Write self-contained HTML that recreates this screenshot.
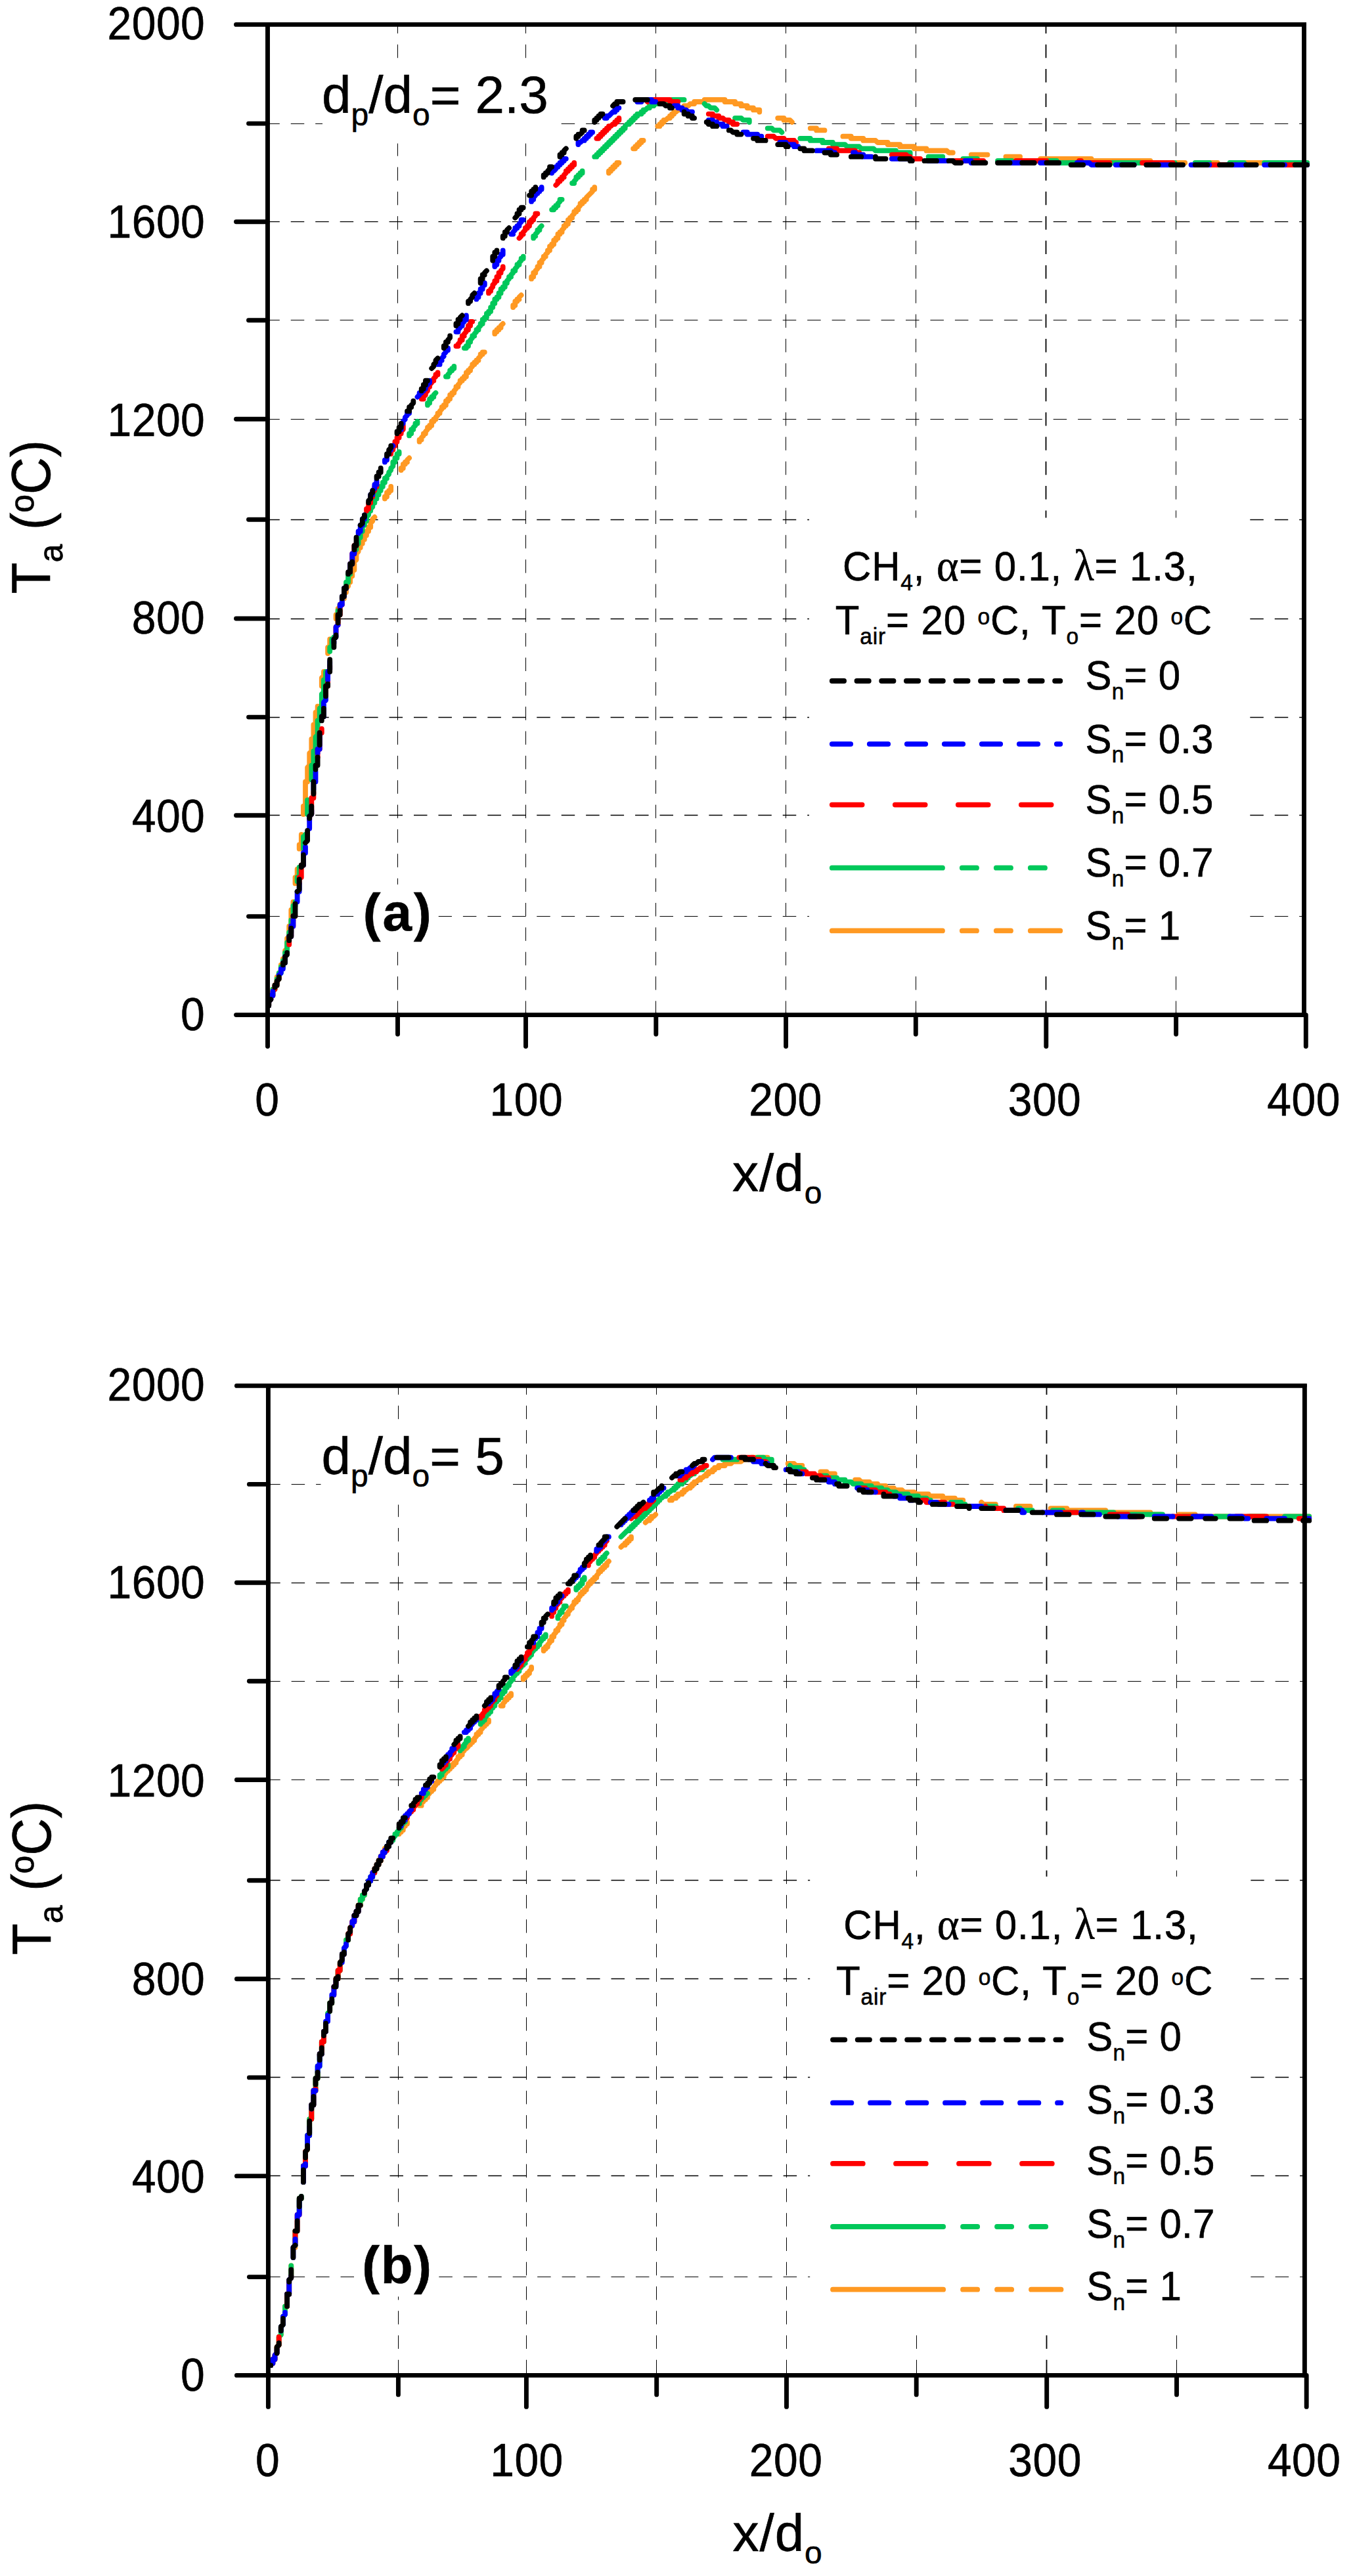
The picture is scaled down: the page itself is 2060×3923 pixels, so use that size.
<!DOCTYPE html>
<html lang="en"><head><meta charset="utf-8"><title>Axial temperature profiles</title>
<style>html,body{margin:0;padding:0;background:#fff}svg{display:block}</style></head>
<body>
<svg width="2060" height="3923" viewBox="0 0 2060 3923" font-family='"Liberation Sans", sans-serif' fill="#000" stroke="none">
<rect width="2060" height="3923" fill="#fff"/>
<g stroke="#000" stroke-dasharray="20.5 16.85" stroke-dashoffset="7"><line x1="605.5" y1="37.4" x2="605.5" y2="1545.6" stroke-width="1"/><line x1="800.5" y1="37.4" x2="800.5" y2="1545.6" stroke-width="1"/><line x1="998.5" y1="37.4" x2="998.5" y2="1545.6" stroke-width="1"/><line x1="1196.5" y1="37.4" x2="1196.5" y2="1545.6" stroke-width="1"/><line x1="1394.5" y1="37.4" x2="1394.5" y2="1545.6" stroke-width="1"/><line x1="1592.5" y1="37.4" x2="1592.5" y2="1545.6" stroke-width="1.8"/><line x1="1790.5" y1="37.4" x2="1790.5" y2="1545.6" stroke-width="1"/></g>
<g stroke="#000" stroke-dasharray="20.5 16.95" stroke-dashoffset="2.2"><line x1="407.5" y1="1395.5" x2="1985.5" y2="1395.5" stroke-width="1"/><line x1="407.5" y1="1241.5" x2="1985.5" y2="1241.5" stroke-width="1.5"/><line x1="407.5" y1="1092.5" x2="1985.5" y2="1092.5" stroke-width="1.5"/><line x1="407.5" y1="942.5" x2="1985.5" y2="942.5" stroke-width="1.5"/><line x1="407.5" y1="791.5" x2="1985.5" y2="791.5" stroke-width="1.5"/><line x1="407.5" y1="638.5" x2="1985.5" y2="638.5" stroke-width="1"/><line x1="407.5" y1="487.5" x2="1985.5" y2="487.5" stroke-width="1"/><line x1="407.5" y1="337.5" x2="1985.5" y2="337.5" stroke-width="1.25"/><line x1="407.5" y1="188.5" x2="1985.5" y2="188.5" stroke-width="1"/></g>
<rect x="491" y="90" width="362.5" height="128.5" fill="#fff"/>
<rect x="539" y="1347" width="128.5" height="90.5" fill="#fff"/>
<rect x="1232" y="788.5" width="671" height="690" fill="#fff"/>
<text transform="translate(1283 884) scale(1 1.045)" font-size="60" letter-spacing="0.85" stroke="#000" stroke-width="0.6"><tspan>CH</tspan><tspan dy="14.2" font-size="33.5">4</tspan><tspan dy="-14.2">, </tspan><tspan font-family='"Liberation Serif", "DejaVu Serif", serif' font-size="64">α</tspan><tspan>= 0.1, </tspan><tspan font-family='"Liberation Serif", "DejaVu Serif", serif' font-size="64">λ</tspan><tspan>= 1.3,</tspan></text>
<text transform="translate(1271.8 966.3) scale(1 1.045)" font-size="60" letter-spacing="0.85" stroke="#000" stroke-width="0.6"><tspan>T</tspan><tspan dy="14.2" font-size="33.5">air</tspan><tspan dy="-14.2">= 20 </tspan><tspan dy="-14.2" font-size="33.5">o</tspan><tspan dy="14.2">C, T</tspan><tspan dy="14.2" font-size="33.5">o</tspan><tspan dy="-14.2">= 20 </tspan><tspan dy="-14.2" font-size="33.5">o</tspan><tspan dy="14.2">C</tspan></text>
<line x1="1266.8" y1="1037.0" x2="1614.3" y2="1037.0" stroke="#000000" stroke-width="7.8" stroke-linecap="round" stroke-dasharray="18.3 19.4"/>
<text transform="translate(1652.5 1050.4) scale(1 1.055)" font-size="60" letter-spacing="0.2" stroke="#000" stroke-width="0.6"><tspan>S</tspan><tspan dy="14.2" font-size="33.5">n</tspan><tspan dy="-14.2">= 0</tspan></text>
<line x1="1266.8" y1="1133.1" x2="1614.3" y2="1133.1" stroke="#0000ff" stroke-width="7.8" stroke-linecap="round" stroke-dasharray="28.4 28.6"/>
<text transform="translate(1652.5 1146.5) scale(1 1.055)" font-size="60" letter-spacing="0.2" stroke="#000" stroke-width="0.6"><tspan>S</tspan><tspan dy="14.2" font-size="33.5">n</tspan><tspan dy="-14.2">= 0.3</tspan></text>
<line x1="1266.8" y1="1225.6" x2="1614.3" y2="1225.6" stroke="#ff0000" stroke-width="7.8" stroke-linecap="round" stroke-dasharray="45.8 50.2"/>
<text transform="translate(1652.5 1239.0) scale(1 1.055)" font-size="60" letter-spacing="0.2" stroke="#000" stroke-width="0.6"><tspan>S</tspan><tspan dy="14.2" font-size="33.5">n</tspan><tspan dy="-14.2">= 0.5</tspan></text>
<line x1="1266.8" y1="1321.7" x2="1614.3" y2="1321.7" stroke="#00c85a" stroke-width="7.8" stroke-linecap="round" stroke-dasharray="168.2 29.8 22.2 29.8 22.2 29.8 22.2 29.8"/>
<text transform="translate(1652.5 1335.1) scale(1 1.055)" font-size="60" letter-spacing="0.2" stroke="#000" stroke-width="0.6"><tspan>S</tspan><tspan dy="14.2" font-size="33.5">n</tspan><tspan dy="-14.2">= 0.7</tspan></text>
<line x1="1266.8" y1="1417.4" x2="1614.3" y2="1417.4" stroke="#ff9922" stroke-width="7.8" stroke-linecap="round" stroke-dasharray="168.2 29.8 22.2 29.8 22.2 29.8"/>
<text transform="translate(1652.5 1430.8) scale(1 1.055)" font-size="60" letter-spacing="0.2" stroke="#000" stroke-width="0.6"><tspan>S</tspan><tspan dy="14.2" font-size="33.5">n</tspan><tspan dy="-14.2">= 1</tspan></text>
<path d="M409.2 1531.4L409.2 1525.2L412.3 1522.1L412.3 1515.9L415.4 1515.9L415.4 1506.6L418.5 1506.6L418.5 1500.4L421.6 1497.3L421.6 1488L424.7 1488L424.7 1481.8L427.8 1478.7L427.8 1469.4L430.9 1469.4L430.9 1460.1L434 1460.1L434 1447.7L437.1 1444.6L437.1 1429.1L440.2 1429.1L440.2 1410.5L443.3 1410.5L443.3 1385.7L446.4 1385.7L446.4 1373.3M449.5 1345.4L449.5 1336.1L452.6 1336.1L452.6 1323.7M455.7 1292.7L455.7 1286.5L458.8 1286.5L458.8 1271M461.9 1240L461.9 1227.6L465 1227.6L465 1190.4L468.1 1190.4L468.1 1168.7L471.2 1165.6L471.2 1147L474.3 1143.9L474.3 1125.3L477.4 1125.3L477.4 1103.6L480.5 1103.6L480.5 1085L483.6 1085L483.6 1075.7M489.8 1044.7L489.8 1032.3L492.9 1029.2L492.9 1023M499.1 995.1L499.1 985.8L502.2 985.8L502.2 973.4L505.3 973.4M511.5 942.4L511.5 936.2L514.6 936.2L514.6 926.9L517.7 926.9L517.7 920.7L520.8 917.6L520.8 911.4L523.9 911.4L523.9 902.1L527 902.1L527 895.9L530.1 892.8L530.1 886.6L533.2 886.6L533.2 877.3L536.3 877.3L536.3 868L539.4 868L539.4 855.6L542.5 852.5L542.5 843.2L545.6 840.1L545.6 833.9L548.7 833.9L548.7 827.7L551.8 827.7L551.8 821.5L554.9 821.5L554.9 815.3L558 815.3L558 809.1L561.1 809.1L561.1 802.9L564.2 802.9L564.2 796.7L567.3 793.6L567.3 790.5L570.4 787.4M585.9 759.5L585.9 756.4L589 756.4L589 750.2L592.1 750.2L592.1 747.1L595.2 747.1L595.2 740.9M610.7 716.1L610.7 713L613.8 713L613.8 706.8L616.9 706.8L616.9 703.7L620 703.7L620 700.6L623.1 697.5M638.6 672.7L638.6 669.6L641.7 669.6L641.7 666.5L644.8 663.4L644.8 660.3L647.9 660.3L647.9 657.2L651 654.1L651 651L654.1 651L654.1 647.9L657.2 647.9L657.2 641.7L660.3 641.7L660.3 638.6L663.4 638.6L663.4 635.5L666.5 632.4L666.5 629.3L669.6 629.3L669.6 626.2L672.7 623.1L672.7 620L675.8 620L675.8 616.9L678.9 616.9L678.9 610.7L682 610.7L682 607.6L685.1 607.6L685.1 601.4L688.2 601.4L688.2 598.3L691.3 598.3L691.3 595.2L694.4 592.1L694.4 589L697.5 589L697.5 585.9L700.6 582.8L700.6 579.7L703.7 579.7L703.7 576.6L706.8 576.6L706.8 573.5L709.9 573.5L709.9 567.3L713 567.3L713 564.2L716.1 564.2L716.1 561.1L719.2 558L719.2 554.9L722.3 554.9L722.3 551.8L725.4 551.8L725.4 548.7L728.5 548.7L728.5 545.6L731.6 542.5L731.6 539.4L734.7 539.4L734.7 536.3L737.8 536.3M753.3 508.4L753.3 505.3L756.4 505.3L756.4 502.2L759.5 502.2L759.5 499.1L762.6 499.1L762.6 496L765.7 492.9M781.2 468.1L781.2 465L784.3 465L784.3 458.8L787.4 458.8L787.4 455.7L790.5 455.7L790.5 452.6L793.6 449.5M809.1 424.7L809.1 421.6L812.2 421.6L812.2 415.4L815.3 415.4L815.3 412.3L818.4 409.2L818.4 406.1L821.5 406.1L821.5 399.9L824.6 399.9L824.6 396.8L827.7 393.7L827.7 390.6L830.8 390.6L830.8 387.5L833.9 384.4L833.9 381.3L837 381.3L837 375.1L840.1 375.1L840.1 372L843.2 372L843.2 365.8L846.3 365.8L846.3 362.7L849.4 362.7L849.4 356.5L852.5 356.5L852.5 353.4L855.6 353.4L855.6 350.3L858.7 347.2L858.7 344.1L861.8 344.1L861.8 341L864.9 341L864.9 334.8L868 334.8L868 331.7L871.1 331.7L871.1 328.6L874.2 325.5L874.2 322.4L877.3 322.4L877.3 319.3L880.4 319.3L880.4 316.2L883.5 313.1L883.5 310L886.6 310L886.6 306.9L889.7 306.9L889.7 303.8L892.8 303.8L892.8 300.7L902.1 291.4L902.1 288.3L905.2 288.3L905.2 285.2M926.9 263.5L926.9 260.4L930 260.4L930 257.3L933.1 257.3L933.1 254.2L936.2 254.2L936.2 251.1L939.3 251.1L939.3 248L942.4 248M964.1 226.3L967.2 226.3L967.2 223.2L970.3 223.2L970.3 220.1L973.4 220.1L973.4 217L976.5 217L976.5 213.9L979.6 213.9M1001.3 192.2L1004.4 192.2L1004.4 189.1L1007.5 189.1L1007.5 186L1010.6 186L1010.6 182.9L1013.7 182.9L1016.8 179.8L1019.9 179.8L1019.9 176.7L1023 176.7L1023 173.6L1026.1 173.6L1026.1 170.5L1029.2 170.5L1032.3 167.4L1035.4 167.4L1035.4 164.3L1041.6 164.3L1041.6 161.2L1047.8 161.2L1050.9 158.1L1057.1 158.1L1057.1 155L1072.6 155L1072.6 151.9L1103.6 151.9L1103.6 155L1119.1 155L1119.1 158.1L1128.4 158.1L1128.4 161.2L1137.7 161.2L1137.7 164.3L1147 164.3L1147 167.4L1156.3 167.4L1156.3 170.5M1184.2 179.8L1193.5 179.8L1193.5 182.9L1202.8 182.9L1205.9 186M1233.8 195.3L1243.1 195.3L1243.1 198.4L1255.5 198.4M1283.4 207.7L1295.8 207.7L1295.8 210.8L1314.4 210.8L1314.4 213.9L1333 213.9L1336.1 217L1351.6 217L1351.6 220.1L1370.2 220.1L1370.2 223.2L1391.9 223.2L1391.9 226.3L1410.5 226.3L1410.5 229.4L1441.5 229.4L1444.6 232.5L1450.8 232.5M1478.7 235.6L1503.5 235.6M1531.4 238.7L1553.1 238.7M1584.1 241.8L1661.6 241.8L1661.6 244.9L1751.5 244.9M1779.4 248L1804.2 248M1832.1 248L1853.8 248M1884.8 248L1990.2 248" fill="none" stroke="#ff9922" stroke-width="7.8" stroke-linecap="round" stroke-linejoin="round"/>
<path d="M409.2 1531.4L409.2 1525.2L412.3 1522.1L412.3 1515.9L415.4 1515.9L415.4 1506.6L418.5 1506.6L418.5 1500.4L421.6 1500.4L421.6 1491.1L424.7 1491.1L424.7 1481.8L427.8 1481.8L427.8 1472.5L430.9 1472.5L430.9 1463.2L434 1463.2L434 1450.8L437.1 1450.8L437.1 1435.3L440.2 1435.3L440.2 1419.8L443.3 1419.8L443.3 1401.2L446.4 1401.2L446.4 1379.5L449.5 1379.5L449.5 1373.3M452.6 1342.3L452.6 1336.1L455.7 1336.1L455.7 1320.6M461.9 1292.7L461.9 1274.1L465 1274.1L465 1271M468.1 1240L468.1 1218.3L471.2 1218.3M474.3 1187.3L474.3 1165.6L477.4 1165.6L477.4 1143.9L480.5 1143.9L480.5 1122.2L483.6 1119.1L483.6 1097.4L486.7 1097.4L486.7 1078.8L489.8 1075.7L489.8 1057.1L492.9 1054L492.9 1035.4L496 1035.4L496 1023M502.2 992L502.2 985.8L505.3 985.8L505.3 973.4L508.4 973.4L508.4 970.3M514.6 942.4L514.6 930L517.7 930L517.7 920.7M527 892.8L527 886.6L530.1 886.6L530.1 874.2L533.2 874.2L533.2 871.1M539.4 840.1L542.5 837L542.5 827.7L545.6 827.7L545.6 818.4L548.7 818.4L548.7 809.1L551.8 809.1L551.8 799.8L554.9 799.8L554.9 793.6L558 793.6L558 787.4L561.1 784.3L561.1 778.1L564.2 778.1L564.2 775L567.3 771.9L567.3 765.7L570.4 765.7L570.4 759.5L573.5 759.5L573.5 753.3L576.6 753.3L576.6 747.1L579.7 747.1L579.7 740.9L582.8 740.9L582.8 734.7L585.9 734.7L585.9 728.5L589 728.5L589 725.4L592.1 722.3L592.1 719.2L595.2 716.1L595.2 713L598.3 709.9L598.3 703.7L601.4 703.7L601.4 697.5L604.5 697.5L604.5 691.3L607.6 691.3L607.6 688.2M623.1 663.4L623.1 660.3L626.2 660.3L626.2 654.1L629.3 654.1L629.3 651L632.4 647.9L632.4 644.8L635.5 644.8L635.5 641.7M651 616.9L651 613.8L654.1 613.8L654.1 607.6L657.2 607.6L657.2 604.5L660.3 604.5L660.3 601.4L663.4 598.3M678.9 573.5L682 573.5L682 570.4L685.1 567.3L685.1 564.2L688.2 564.2L688.2 561.1L691.3 561.1L691.3 558M706.8 530.1L709.9 530.1L709.9 527L713 527L713 520.8L716.1 520.8L716.1 517.7L719.2 514.6L719.2 511.5L722.3 511.5L722.3 508.4L725.4 505.3L725.4 502.2L728.5 502.2L728.5 499.1L731.6 496L731.6 492.9L734.7 492.9L734.7 486.7L737.8 486.7L737.8 483.6L740.9 483.6L740.9 477.4L744 477.4L744 474.3L747.1 474.3L747.1 468.1L750.2 468.1L750.2 461.9L753.3 461.9L753.3 455.7L756.4 455.7L756.4 452.6L759.5 452.6L759.5 446.4L762.6 446.4L762.6 440.2L765.7 440.2L765.7 437.1L768.8 437.1L768.8 430.9L771.9 430.9L771.9 427.8L775 424.7L775 421.6L778.1 421.6L778.1 418.5L781.2 415.4L781.2 412.3L784.3 412.3L784.3 409.2L787.4 406.1L787.4 403L790.5 403L790.5 399.9L793.6 396.8L793.6 393.7L796.7 393.7L796.7 390.6M812.2 362.7L812.2 359.6L815.3 359.6L815.3 356.5L818.4 353.4L818.4 350.3L821.5 350.3L821.5 347.2L824.6 344.1M840.1 319.3L843.2 319.3L843.2 316.2L846.3 316.2L846.3 313.1L849.4 313.1L849.4 310L852.5 306.9L852.5 303.8L855.6 303.8M871.1 279L874.2 279L874.2 275.9L877.3 272.8L877.3 269.7L880.4 269.7L880.4 266.6L883.5 266.6L883.5 263.5L886.6 263.5L886.6 260.4M905.2 238.7L908.3 238.7L908.3 235.6L911.4 235.6L911.4 232.5L914.5 232.5L914.5 229.4L917.6 229.4L917.6 226.3L920.7 226.3L920.7 223.2L923.8 223.2L923.8 220.1L926.9 220.1L926.9 217L930 217L930 213.9L933.1 213.9L933.1 210.8L936.2 210.8L936.2 207.7L939.3 207.7L939.3 204.6L942.4 204.6L942.4 201.5L945.5 201.5L945.5 198.4L948.6 198.4L948.6 195.3L951.7 195.3L951.7 192.2L954.8 189.1L957.9 189.1L957.9 186L961 186L961 182.9L964.1 182.9L964.1 179.8L967.2 179.8L967.2 176.7L970.3 176.7L970.3 173.6L976.5 173.6L976.5 170.5L979.6 170.5L979.6 167.4L982.7 167.4L985.8 164.3L988.9 164.3L988.9 161.2L995.1 161.2L995.1 158.1L1004.4 158.1L1004.4 155L1019.9 155L1023 151.9L1041.6 151.9M1072.6 158.1L1075.7 161.2L1078.8 161.2L1081.9 164.3L1088.1 164.3L1091.2 167.4M1119.1 179.8L1128.4 179.8L1131.5 182.9L1140.8 182.9L1140.8 186M1168.7 195.3L1174.9 195.3L1178 198.4L1187.3 198.4L1190.4 201.5M1218.3 210.8L1233.8 210.8L1233.8 213.9L1252.4 213.9L1252.4 217L1267.9 217L1267.9 220.1L1286.5 220.1L1289.6 223.2L1308.2 223.2L1311.3 226.3L1329.9 226.3L1333 229.4L1364 229.4L1364 232.5L1385.7 232.5L1385.7 235.6M1413.6 238.7L1435.3 238.7M1466.3 241.8L1488 241.8M1519 244.9L1540.7 244.9M1571.7 244.9L1608.9 244.9L1608.9 248L1739.1 248M1767 248L1788.7 248M1819.7 248L1841.4 248M1872.4 248L1894.1 248M1925.1 248L1990.2 248" fill="none" stroke="#00c85a" stroke-width="7.8" stroke-linecap="round" stroke-linejoin="round"/>
<path d="M409.2 1531.4L409.2 1525.2L412.3 1522.1L412.3 1515.9L415.4 1515.9L415.4 1509.7L418.5 1506.6L418.5 1500.4L421.6 1500.4L421.6 1494.2L424.7 1491.1L424.7 1488M440.2 1438.4L440.2 1426L443.3 1426L443.3 1410.5L446.4 1410.5L446.4 1395L449.5 1395M455.7 1345.4L455.7 1336.1L458.8 1336.1L458.8 1317.5L461.9 1317.5L461.9 1298.9M471.2 1249.3L471.2 1243.1L474.3 1240L474.3 1215.2L477.4 1215.2L477.4 1205.9M483.6 1153.2L483.6 1140.8L486.7 1140.8L486.7 1116L489.8 1116L489.8 1109.8M496 1060.2L496 1044.7L499.1 1044.7L499.1 1023L502.2 1019.9L502.2 1013.7M511.5 964.1L511.5 954.8L514.6 951.7L514.6 936.2L517.7 936.2L517.7 920.7L520.8 920.7M533.2 871.1L533.2 858.7L536.3 858.7L536.3 843.2L539.4 843.2L539.4 830.8L542.5 830.8L542.5 827.7M558 778.1L558 775L561.1 775L561.1 765.7L564.2 765.7L564.2 756.4L567.3 756.4L567.3 750.2L570.4 747.1L570.4 740.9L573.5 740.9L573.5 734.7M595.2 691.3L595.2 685.1L598.3 685.1L598.3 678.9L601.4 678.9L601.4 672.7L604.5 672.7L604.5 666.5L607.6 666.5L607.6 660.3L610.7 660.3L610.7 657.2L613.8 654.1L613.8 647.9M641.7 607.6L644.8 607.6L644.8 604.5L647.9 601.4L647.9 598.3L651 595.2L651 589L654.1 589L654.1 585.9L657.2 582.8L657.2 579.7L660.3 579.7L660.3 576.6L663.4 573.5L663.4 570.4L666.5 570.4L666.5 567.3M694.4 527L697.5 527L697.5 523.9L700.6 520.8L700.6 517.7L703.7 517.7L703.7 511.5L706.8 511.5L706.8 508.4L709.9 505.3L709.9 502.2L713 502.2L713 496L716.1 496L716.1 489.8L719.2 489.8M744 446.4L744 443.3L747.1 443.3L747.1 440.2L750.2 437.1L750.2 434L753.3 430.9L753.3 427.8L756.4 427.8L756.4 421.6L759.5 421.6L759.5 415.4L762.6 415.4L762.6 412.3L765.7 409.2L765.7 406.1M790.5 362.7L793.6 359.6L793.6 356.5L796.7 356.5L796.7 353.4L799.8 350.3L799.8 347.2L802.9 347.2L802.9 344.1L806 344.1L806 337.9L809.1 337.9L809.1 334.8L812.2 334.8L812.2 331.7L815.3 328.6L815.3 325.5L818.4 325.5M846.3 282.1L849.4 279L849.4 275.9L852.5 275.9L852.5 272.8L855.6 272.8L855.6 269.7L858.7 269.7L858.7 266.6L861.8 263.5L861.8 260.4L864.9 260.4L864.9 257.3L868 257.3L868 254.2L871.1 254.2L871.1 251.1L874.2 251.1L874.2 248M908.3 210.8L911.4 210.8L911.4 207.7L914.5 207.7L914.5 204.6L917.6 204.6L917.6 201.5L920.7 201.5L920.7 198.4L923.8 198.4L923.8 195.3L926.9 195.3L926.9 192.2L930 192.2L933.1 189.1L936.2 189.1L936.2 186L939.3 186L939.3 182.9L942.4 182.9L942.4 179.8M985.8 155L988.9 151.9L1019.9 151.9L1019.9 155L1032.3 155M1078.8 173.6L1085 173.6L1085 176.7L1094.3 176.7L1094.3 179.8L1100.5 179.8L1103.6 182.9L1109.8 182.9L1109.8 186L1116 186L1116 189.1L1122.2 189.1M1168.7 207.7L1178 207.7L1181.1 210.8L1193.5 210.8L1193.5 213.9L1209 213.9L1209 217L1212.1 217M1261.7 226.3L1274.1 226.3L1274.1 229.4L1302 229.4L1305.1 232.5L1308.2 232.5M1357.8 235.6L1379.5 235.6L1382.6 238.7L1385.7 238.7L1385.7 241.8L1401.2 241.8M1450.8 244.9L1497.3 244.9M1546.9 244.9L1593.4 244.9M1643 244.9L1646.1 244.9L1646.1 248L1689.5 248M1739.1 248L1785.6 248M1835.2 251.1L1881.7 251.1M1931.3 251.1L1977.8 251.1" fill="none" stroke="#ff0000" stroke-width="7.8" stroke-linecap="round" stroke-linejoin="round"/>
<path d="M409.2 1531.4L409.2 1525.2L412.3 1522.1L412.3 1515.9L415.4 1515.9L415.4 1509.7M424.7 1484.9L427.8 1481.8L427.8 1475.6L430.9 1475.6L430.9 1466.3L434 1466.3L434 1457M440.2 1429.1L440.2 1426L443.3 1426L443.3 1410.5L446.4 1410.5L446.4 1401.2M452.6 1373.3L452.6 1357.8L455.7 1357.8L455.7 1345.4M461.9 1317.5L461.9 1298.9L465 1298.9L465 1289.6M471.2 1261.7L471.2 1243.1L474.3 1240L474.3 1233.8M477.4 1202.8L477.4 1190.4L480.5 1190.4L480.5 1174.9M483.6 1147L483.6 1140.8L486.7 1140.8L486.7 1119.1M489.8 1091.2L492.9 1091.2L492.9 1069.5L496 1066.4L496 1063.3M499.1 1035.4L499.1 1023L502.2 1019.9L502.2 1007.5M508.4 979.6L508.4 973.4L511.5 970.3L511.5 954.8L514.6 951.7M517.7 923.8L517.7 920.7L520.8 920.7L520.8 908.3L523.9 908.3L523.9 895.9L527 895.9M533.2 868L533.2 858.7L536.3 858.7L536.3 843.2L539.4 843.2L539.4 840.1M545.6 812.2L545.6 809.1L548.7 809.1L548.7 799.8L551.8 799.8L551.8 790.5L554.9 790.5L554.9 784.3M564.2 756.4L564.2 753.3L567.3 753.3L567.3 747.1L570.4 744L570.4 737.8L573.5 737.8L573.5 731.6M585.9 703.7L585.9 700.6L589 700.6L589 694.4L592.1 691.3L592.1 688.2L595.2 685.1L595.2 682L598.3 678.9M610.7 654.1L610.7 647.9L613.8 644.8L613.8 641.7L616.9 638.6L616.9 635.5L620 632.4L620 629.3L623.1 629.3L623.1 626.2M635.5 604.5L638.6 601.4L638.6 598.3L641.7 598.3L641.7 595.2L644.8 595.2L644.8 592.1L647.9 592.1L647.9 589L651 585.9L651 582.8L654.1 582.8L654.1 579.7M666.5 554.9L669.6 554.9L669.6 548.7L672.7 548.7L672.7 545.6L675.8 542.5L675.8 539.4L678.9 536.3L678.9 533.2L682 533.2L682 530.1M694.4 505.3L697.5 505.3L697.5 502.2L700.6 499.1L700.6 496L703.7 496L703.7 492.9L706.8 489.8L706.8 486.7L709.9 486.7L709.9 480.5M725.4 455.7L725.4 452.6L728.5 452.6L728.5 446.4L731.6 446.4L731.6 440.2L734.7 440.2L734.7 434L737.8 434L737.8 430.9M753.3 406.1L753.3 403L756.4 403L756.4 396.8L759.5 396.8L759.5 393.7L762.6 390.6L762.6 387.5L765.7 387.5L765.7 381.3M778.1 356.5L781.2 356.5L781.2 353.4L784.3 350.3L784.3 347.2L787.4 347.2L787.4 344.1L790.5 344.1L790.5 341L793.6 337.9L793.6 334.8L796.7 334.8M809.1 306.9L809.1 303.8L812.2 303.8L812.2 300.7L815.3 297.6L815.3 294.5L818.4 294.5L818.4 291.4L821.5 291.4L821.5 288.3L824.6 288.3L824.6 285.2M840.1 263.5L840.1 260.4L843.2 260.4L846.3 257.3L846.3 254.2L849.4 254.2L849.4 251.1L852.5 251.1L852.5 248L855.6 248L855.6 244.9L858.7 244.9L858.7 241.8L861.8 241.8M880.4 220.1L880.4 217L883.5 217L886.6 213.9L889.7 213.9L889.7 210.8L892.8 210.8L892.8 207.7L895.9 207.7L895.9 204.6L899 204.6L899 201.5L902.1 201.5M920.7 179.8L923.8 179.8L923.8 176.7L926.9 176.7L933.1 170.5L936.2 170.5L936.2 167.4L939.3 167.4L939.3 164.3L942.4 164.3M970.3 155L976.5 155L976.5 151.9L992 151.9L992 155L998.2 155M1026.1 161.2L1032.3 161.2L1032.3 164.3L1038.5 164.3L1038.5 167.4L1044.7 167.4L1047.8 170.5L1054 170.5M1078.8 182.9L1085 182.9L1085 186L1091.2 186L1091.2 189.1L1100.5 189.1L1100.5 192.2L1106.7 192.2M1131.5 201.5L1137.7 201.5L1137.7 204.6L1153.2 204.6L1153.2 207.7L1159.4 207.7M1187.3 217L1196.6 217L1196.6 220.1L1209 220.1L1209 223.2L1215.2 223.2M1243.1 229.4L1264.8 229.4L1267.9 232.5L1271 232.5M1298.9 232.5L1302 232.5L1302 235.6L1314.4 235.6L1314.4 238.7L1326.8 238.7M1357.8 241.8L1385.7 241.8M1413.6 244.9L1441.5 244.9M1469.4 244.9L1478.7 244.9L1478.7 248L1497.3 248M1528.3 248L1556.2 248M1584.1 248L1612 248M1639.9 248L1658.5 248L1661.6 251.1L1670.9 251.1M1698.8 251.1L1726.7 251.1M1754.6 251.1L1782.5 251.1M1813.5 251.1L1841.4 251.1M1869.3 251.1L1897.2 251.1M1925.1 251.1L1956.1 251.1M1984 251.1L1990.2 251.1" fill="none" stroke="#0000ff" stroke-width="7.8" stroke-linecap="round" stroke-linejoin="round"/>
<path d="M409.2 1531.4L409.2 1525.2L412.3 1522.1M418.5 1503.5L418.5 1500.4L421.6 1500.4L421.6 1494.2L424.7 1491.1L424.7 1488M430.9 1469.4L430.9 1466.3L434 1466.3L434 1457L437.1 1453.9L437.1 1450.8M440.2 1432.2L440.2 1426L443.3 1426L443.3 1413.6M446.4 1395L449.5 1395L449.5 1376.4M452.6 1357.8L455.7 1354.7L455.7 1339.2M458.8 1320.6L458.8 1317.5L461.9 1317.5L461.9 1302M465 1283.4L468.1 1280.3L468.1 1264.8M471.2 1246.2L471.2 1243.1L474.3 1240L474.3 1227.6M477.4 1209L477.4 1190.4M480.5 1171.8L480.5 1165.6L483.6 1165.6L483.6 1153.2M486.7 1134.6L486.7 1116M489.8 1097.4L489.8 1091.2L492.9 1091.2L492.9 1078.8M496 1060.2L496 1044.7L499.1 1044.7L499.1 1041.6M502.2 1023L502.2 1004.4M508.4 985.8L508.4 973.4L511.5 970.3L511.5 967.2M514.6 948.6L514.6 936.2L517.7 936.2L517.7 930M520.8 911.4L520.8 908.3L523.9 908.3L523.9 895.9L527 895.9L527 892.8M530.1 874.2L530.1 871.1L533.2 871.1L533.2 858.7L536.3 858.7L536.3 855.6M539.4 837L539.4 830.8L542.5 830.8L542.5 818.4M548.7 799.8L551.8 796.7L551.8 790.5L554.9 787.4L554.9 784.3M561.1 765.7L561.1 762.6L564.2 759.5L564.2 753.3L567.3 750.2L567.3 747.1M573.5 728.5L573.5 725.4L576.6 725.4L576.6 719.2L579.7 719.2L579.7 713M589 694.4L589 691.3L592.1 691.3L592.1 685.1L595.2 682L595.2 678.9M604.5 660.3L604.5 657.2L607.6 657.2L607.6 651L610.7 651L610.7 644.8M620 626.2L623.1 626.2L623.1 620L626.2 620L626.2 616.9L629.3 613.8L629.3 610.7M641.7 595.2L641.7 592.1L644.8 592.1L644.8 585.9L647.9 585.9L647.9 579.7L651 579.7M657.2 561.1L660.3 558L660.3 554.9L663.4 551.8L663.4 548.7L666.5 545.6M675.8 530.1L675.8 527L678.9 527L678.9 520.8L682 520.8L682 517.7L685.1 514.6L685.1 511.5M694.4 496L694.4 492.9L697.5 492.9L697.5 486.7L700.6 486.7L700.6 483.6L703.7 480.5M713 461.9L713 458.8L716.1 458.8L716.1 455.7L719.2 452.6L719.2 449.5L722.3 446.4M731.6 430.9L731.6 424.7L734.7 424.7L734.7 418.5L737.8 418.5L737.8 415.4L740.9 412.3M750.2 396.8L750.2 390.6L753.3 390.6L753.3 384.4L756.4 384.4L756.4 381.3M765.7 362.7L765.7 359.6L768.8 359.6L768.8 353.4L771.9 353.4L771.9 350.3L775 347.2M784.3 331.7L787.4 328.6L787.4 325.5L790.5 325.5L790.5 319.3L793.6 319.3L793.6 316.2L796.7 316.2M806 297.6L809.1 297.6L809.1 291.4L812.2 291.4L812.2 288.3L815.3 288.3L815.3 285.2M827.7 269.7L827.7 266.6L830.8 266.6L830.8 263.5L833.9 263.5L833.9 260.4L837 257.3L837 254.2L840.1 254.2M852.5 238.7L852.5 235.6L855.6 235.6L855.6 232.5L858.7 232.5L858.7 229.4L861.8 226.3M877.3 210.8L877.3 207.7L880.4 207.7L880.4 204.6L883.5 204.6L886.6 201.5L886.6 198.4L889.7 198.4M905.2 186L905.2 182.9L908.3 182.9L908.3 179.8L911.4 179.8L911.4 176.7L914.5 176.7L914.5 173.6L917.6 173.6M933.1 161.2L936.2 158.1L939.3 158.1L939.3 155L948.6 155M967.2 151.9L985.8 151.9M1004.4 158.1L1010.6 158.1L1013.7 161.2L1019.9 161.2L1019.9 164.3L1023 164.3M1041.6 170.5L1041.6 173.6L1047.8 173.6L1047.8 176.7L1054 176.7L1054 179.8L1057.1 179.8M1075.7 186L1078.8 186L1078.8 189.1L1085 189.1L1085 192.2L1091.2 192.2M1109.8 198.4L1112.9 198.4L1116 201.5L1122.2 201.5L1122.2 204.6L1128.4 204.6M1147 210.8L1153.2 210.8L1153.2 213.9L1165.6 213.9M1184.2 220.1L1196.6 220.1L1196.6 223.2L1199.7 223.2M1218.3 226.3L1224.5 226.3L1224.5 229.4L1236.9 229.4M1255.5 232.5L1264.8 232.5L1264.8 235.6L1274.1 235.6M1295.8 238.7L1311.3 238.7M1333 238.7L1333 241.8L1348.5 241.8M1370.2 241.8L1385.7 241.8L1385.7 244.9L1388.8 244.9M1407.4 244.9L1426 244.9M1444.6 244.9L1450.8 244.9L1453.9 248L1463.2 248M1481.8 248L1500.4 248M1519 248L1537.6 248M1556.2 248L1574.8 248M1593.4 248L1612 248M1630.6 251.1L1649.2 251.1M1670.9 251.1L1689.5 251.1M1708.1 251.1L1726.7 251.1M1745.3 251.1L1763.9 251.1M1782.5 251.1L1801.1 251.1M1819.7 251.1L1838.3 251.1M1856.9 251.1L1875.5 251.1M1897.2 251.1L1912.7 251.1M1934.4 251.1L1953 251.1M1971.6 251.1L1990.2 251.1" fill="none" stroke="#000000" stroke-width="7.8" stroke-linecap="round" stroke-linejoin="round"/>
<g stroke="#000" stroke-width="6.9" stroke-linecap="round"><line x1="407.5" y1="37.4" x2="407.5" y2="1545.6" stroke-linecap="butt"/><line x1="1985.5" y1="34.0" x2="1985.5" y2="1549.0" stroke-linecap="butt"/><line x1="359.5" y1="37.4" x2="1985.5" y2="37.4"/><line x1="378.5" y1="188.1" x2="407.5" y2="188.1"/><line x1="359.5" y1="337.8" x2="407.5" y2="337.8"/><line x1="378.5" y1="487.8" x2="407.5" y2="487.8"/><line x1="359.5" y1="638.3" x2="407.5" y2="638.3"/><line x1="378.5" y1="791.3" x2="407.5" y2="791.3"/><line x1="359.5" y1="942.0" x2="407.5" y2="942.0"/><line x1="378.5" y1="1092.1" x2="407.5" y2="1092.1"/><line x1="359.5" y1="1241.8" x2="407.5" y2="1241.8"/><line x1="378.5" y1="1395.6" x2="407.5" y2="1395.6"/><line x1="359.5" y1="1545.6" x2="1985.5" y2="1545.6"/><line x1="407.5" y1="1545.6" x2="407.5" y2="1593.6"/><line x1="605.5" y1="1545.6" x2="605.5" y2="1575.1"/><line x1="800.5" y1="1545.6" x2="800.5" y2="1593.6"/><line x1="998.8" y1="1545.6" x2="998.8" y2="1575.1"/><line x1="1196.6" y1="1545.6" x2="1196.6" y2="1593.6"/><line x1="1394.3" y1="1545.6" x2="1394.3" y2="1575.1"/><line x1="1592.8" y1="1545.6" x2="1592.8" y2="1593.6"/><line x1="1790.6" y1="1545.6" x2="1790.6" y2="1575.1"/><line x1="1988.3" y1="1545.6" x2="1988.3" y2="1593.6"/></g>
<text transform="translate(312.3 60.3) scale(1 1.055)" font-size="66" text-anchor="end" letter-spacing="0.5" stroke="#000" stroke-width="0.6">2000</text>
<text transform="translate(312.3 362.0) scale(1 1.055)" font-size="66" text-anchor="end" letter-spacing="0.5" stroke="#000" stroke-width="0.6">1600</text>
<text transform="translate(312.3 663.6) scale(1 1.055)" font-size="66" text-anchor="end" letter-spacing="0.5" stroke="#000" stroke-width="0.6">1200</text>
<text transform="translate(312.3 965.3) scale(1 1.055)" font-size="66" text-anchor="end" letter-spacing="0.5" stroke="#000" stroke-width="0.6">800</text>
<text transform="translate(312.3 1266.9) scale(1 1.055)" font-size="66" text-anchor="end" letter-spacing="0.5" stroke="#000" stroke-width="0.6">400</text>
<text transform="translate(312.3 1568.6) scale(1 1.055)" font-size="66" text-anchor="end" letter-spacing="0.5" stroke="#000" stroke-width="0.6">0</text>
<text transform="translate(406.9 1699.3) scale(1 1.055)" font-size="66" text-anchor="middle" letter-spacing="0.5" stroke="#000" stroke-width="0.6">0</text>
<text transform="translate(801.4 1699.3) scale(1 1.055)" font-size="66" text-anchor="middle" letter-spacing="0.5" stroke="#000" stroke-width="0.6">100</text>
<text transform="translate(1196.0 1699.3) scale(1 1.055)" font-size="66" text-anchor="middle" letter-spacing="0.5" stroke="#000" stroke-width="0.6">200</text>
<text transform="translate(1590.5 1699.3) scale(1 1.055)" font-size="66" text-anchor="middle" letter-spacing="0.5" stroke="#000" stroke-width="0.6">300</text>
<text transform="translate(1985.1 1699.3) scale(1 1.055)" font-size="66" text-anchor="middle" letter-spacing="0.5" stroke="#000" stroke-width="0.6">400</text>
<text transform="translate(490 171.7)" font-size="80" stroke="#000" stroke-width="0.6"><tspan>d</tspan><tspan dy="19" font-size="48">p</tspan><tspan dy="-19">/d</tspan><tspan dy="19" font-size="48">o</tspan><tspan dy="-19">= 2.3</tspan></text>
<text transform="translate(606.2 1417)" font-size="80" text-anchor="middle" font-weight="bold" letter-spacing="3" stroke="#000" stroke-width="0.6">(a)</text>
<text transform="translate(1115 1813.6)" font-size="80" letter-spacing="1" stroke="#000" stroke-width="0.6"><tspan>x/d</tspan><tspan dy="19" font-size="48">o</tspan></text>
<text transform="translate(76.2 787.3) rotate(-90) scale(1 1.05)" font-size="78.6" text-anchor="middle" stroke="#000" stroke-width="0.6"><tspan>T</tspan><tspan dy="18" font-size="50">a</tspan><tspan dy="-18"> (</tspan><tspan dy="-24" font-size="50">o</tspan><tspan dy="24">C)</tspan></text>
<g stroke="#000" stroke-dasharray="20.5 16.76" stroke-dashoffset="7"><line x1="606.5" y1="2110.4" x2="606.5" y2="3617.4" stroke-width="1"/><line x1="801.5" y1="2110.4" x2="801.5" y2="3617.4" stroke-width="1"/><line x1="999.5" y1="2110.4" x2="999.5" y2="3617.4" stroke-width="1"/><line x1="1197.5" y1="2110.4" x2="1197.5" y2="3617.4" stroke-width="1"/><line x1="1395.5" y1="2110.4" x2="1395.5" y2="3617.4" stroke-width="1"/><line x1="1593.5" y1="2110.4" x2="1593.5" y2="3617.4" stroke-width="1.8"/><line x1="1791.5" y1="2110.4" x2="1791.5" y2="3617.4" stroke-width="1"/></g>
<g stroke="#000" stroke-dasharray="20.5 16.95" stroke-dashoffset="2.2"><line x1="408.4" y1="3467.5" x2="1986.4" y2="3467.5" stroke-width="1"/><line x1="408.4" y1="3313.5" x2="1986.4" y2="3313.5" stroke-width="1.5"/><line x1="408.4" y1="3163.5" x2="1986.4" y2="3163.5" stroke-width="1.5"/><line x1="408.4" y1="3013.5" x2="1986.4" y2="3013.5" stroke-width="1.5"/><line x1="408.4" y1="2863.5" x2="1986.4" y2="2863.5" stroke-width="1.5"/><line x1="408.4" y1="2710.5" x2="1986.4" y2="2710.5" stroke-width="1"/><line x1="408.4" y1="2560.5" x2="1986.4" y2="2560.5" stroke-width="1"/><line x1="408.4" y1="2410.5" x2="1986.4" y2="2410.5" stroke-width="1.25"/><line x1="408.4" y1="2260.5" x2="1986.4" y2="2260.5" stroke-width="1"/></g>
<rect x="488.5" y="2163" width="292.5" height="128.5" fill="#fff"/>
<rect x="539" y="3403" width="128.5" height="94.5" fill="#fff"/>
<rect x="1233.2" y="2857.8" width="671" height="690" fill="#fff"/>
<text transform="translate(1284.2 2953.3) scale(1 1.045)" font-size="60" letter-spacing="0.85" stroke="#000" stroke-width="0.6"><tspan>CH</tspan><tspan dy="14.2" font-size="33.5">4</tspan><tspan dy="-14.2">, </tspan><tspan font-family='"Liberation Serif", "DejaVu Serif", serif' font-size="64">α</tspan><tspan>= 0.1, </tspan><tspan font-family='"Liberation Serif", "DejaVu Serif", serif' font-size="64">λ</tspan><tspan>= 1.3,</tspan></text>
<text transform="translate(1273.0 3038.2) scale(1 1.045)" font-size="60" letter-spacing="0.85" stroke="#000" stroke-width="0.6"><tspan>T</tspan><tspan dy="14.2" font-size="33.5">air</tspan><tspan dy="-14.2">= 20 </tspan><tspan dy="-14.2" font-size="33.5">o</tspan><tspan dy="14.2">C, T</tspan><tspan dy="14.2" font-size="33.5">o</tspan><tspan dy="-14.2">= 20 </tspan><tspan dy="-14.2" font-size="33.5">o</tspan><tspan dy="14.2">C</tspan></text>
<line x1="1268.0" y1="3106.3" x2="1615.5" y2="3106.3" stroke="#000000" stroke-width="7.8" stroke-linecap="round" stroke-dasharray="18.3 19.4"/>
<text transform="translate(1654.3 3122.9) scale(1 1.055)" font-size="60" letter-spacing="0.2" stroke="#000" stroke-width="0.6"><tspan>S</tspan><tspan dy="14.2" font-size="33.5">n</tspan><tspan dy="-14.2">= 0</tspan></text>
<line x1="1268.0" y1="3202.4" x2="1615.5" y2="3202.4" stroke="#0000ff" stroke-width="7.8" stroke-linecap="round" stroke-dasharray="28.4 28.6"/>
<text transform="translate(1654.3 3219.0) scale(1 1.055)" font-size="60" letter-spacing="0.2" stroke="#000" stroke-width="0.6"><tspan>S</tspan><tspan dy="14.2" font-size="33.5">n</tspan><tspan dy="-14.2">= 0.3</tspan></text>
<line x1="1268.0" y1="3294.9" x2="1615.5" y2="3294.9" stroke="#ff0000" stroke-width="7.8" stroke-linecap="round" stroke-dasharray="45.8 50.2"/>
<text transform="translate(1654.3 3311.5) scale(1 1.055)" font-size="60" letter-spacing="0.2" stroke="#000" stroke-width="0.6"><tspan>S</tspan><tspan dy="14.2" font-size="33.5">n</tspan><tspan dy="-14.2">= 0.5</tspan></text>
<line x1="1268.0" y1="3391.0" x2="1615.5" y2="3391.0" stroke="#00c85a" stroke-width="7.8" stroke-linecap="round" stroke-dasharray="168.2 29.8 22.2 29.8 22.2 29.8 22.2 29.8"/>
<text transform="translate(1654.3 3407.6) scale(1 1.055)" font-size="60" letter-spacing="0.2" stroke="#000" stroke-width="0.6"><tspan>S</tspan><tspan dy="14.2" font-size="33.5">n</tspan><tspan dy="-14.2">= 0.7</tspan></text>
<line x1="1268.0" y1="3486.7000000000003" x2="1615.5" y2="3486.7000000000003" stroke="#ff9922" stroke-width="7.8" stroke-linecap="round" stroke-dasharray="168.2 29.8 22.2 29.8 22.2 29.8"/>
<text transform="translate(1654.3 3503.3) scale(1 1.055)" font-size="60" letter-spacing="0.2" stroke="#000" stroke-width="0.6"><tspan>S</tspan><tspan dy="14.2" font-size="33.5">n</tspan><tspan dy="-14.2">= 1</tspan></text>
<path d="M409.2 3602.2L412.3 3602.2L412.3 3599.1L415.4 3599.1L415.4 3592.9L418.5 3592.9L418.5 3586.7L421.6 3583.6L421.6 3574.3L424.7 3571.2L424.7 3558.8L427.8 3555.7L427.8 3543.3L430.9 3540.2L430.9 3527.8L434 3524.7L434 3512.3L437.1 3512.3L437.1 3493.7L440.2 3493.7L440.2 3472L443.3 3468.9L443.3 3450.3M449.5 3422.4L449.5 3397.6M455.7 3369.7L455.7 3348L458.8 3348M461.9 3317L461.9 3298.4L465 3298.4L465 3276.7L468.1 3273.6L468.1 3251.9L471.2 3251.9L471.2 3227.1L474.3 3227.1L474.3 3205.4L477.4 3205.4L477.4 3183.7L480.5 3183.7L480.5 3165.1L483.6 3165.1L483.6 3152.7M489.8 3121.7L489.8 3109.3L492.9 3109.3L492.9 3100M499.1 3072.1L499.1 3065.9L502.2 3062.8L502.2 3050.4L505.3 3050.4M511.5 3019.4L511.5 3013.2L514.6 3013.2L514.6 3000.8L517.7 3000.8L517.7 2988.4L520.8 2985.3L520.8 2976L523.9 2976L523.9 2966.7L527 2963.6L527 2954.3L530.1 2954.3L530.1 2945L533.2 2941.9L533.2 2935.7L536.3 2932.6L536.3 2926.4L539.4 2926.4L539.4 2917.1L542.5 2917.1L542.5 2910.9L545.6 2910.9L545.6 2901.6L548.7 2901.6L548.7 2892.3L551.8 2892.3L551.8 2886.1L554.9 2886.1L554.9 2879.9L558 2876.8L558 2870.6L561.1 2870.6L561.1 2864.4L564.2 2864.4L564.2 2861.3M576.6 2833.4L579.7 2833.4L579.7 2827.2L582.8 2827.2L582.8 2821L585.9 2821L585.9 2814.8L589 2814.8M607.6 2793.1L607.6 2790L610.7 2790L610.7 2786.9L613.8 2786.9L613.8 2780.7L616.9 2780.7L616.9 2777.6L620 2777.6L620 2774.5M638.6 2749.7L641.7 2749.7L641.7 2746.6L644.8 2743.5L644.8 2740.4L647.9 2740.4L647.9 2737.3L651 2737.3L651 2734.2L654.1 2731.1L654.1 2728L657.2 2728L657.2 2724.9L660.3 2724.9L660.3 2721.8L663.4 2718.7L663.4 2715.6L666.5 2715.6L666.5 2712.5L669.6 2712.5L669.6 2709.4L672.7 2709.4L672.7 2706.3L675.8 2706.3L675.8 2703.2L678.9 2700.1L678.9 2697L682 2697L682 2693.9L685.1 2693.9L685.1 2690.8L688.2 2690.8L688.2 2687.7L691.3 2687.7L691.3 2684.6L694.4 2684.6L694.4 2681.5L697.5 2678.4L697.5 2675.3L700.6 2675.3L700.6 2672.2L703.7 2672.2L703.7 2669.1L706.8 2666L706.8 2662.9L709.9 2662.9L713 2659.8L713 2656.7L716.1 2656.7L716.1 2653.6L719.2 2653.6L719.2 2650.5L722.3 2650.5L722.3 2647.4L725.4 2644.3L725.4 2641.2L728.5 2641.2L728.5 2638.1L731.6 2638.1L731.6 2635L734.7 2631.9L734.7 2628.8L737.8 2628.8L737.8 2625.7L740.9 2625.7L740.9 2622.6L744 2622.6L744 2619.5M762.6 2597.8L765.7 2597.8L765.7 2594.7L768.8 2591.6L768.8 2588.5L771.9 2588.5L771.9 2585.4L775 2585.4L775 2582.3L778.1 2582.3L778.1 2579.2M796.7 2557.5L796.7 2554.4L799.8 2554.4L799.8 2551.3L802.9 2551.3L802.9 2548.2L806 2548.2L806 2545.1L809.1 2542L809.1 2538.9M827.7 2514.1L827.7 2511L830.8 2511L830.8 2507.9L833.9 2507.9L833.9 2504.8L837 2501.7L837 2498.6L840.1 2498.6L840.1 2492.4L843.2 2492.4L843.2 2489.3L846.3 2486.2L846.3 2483.1L849.4 2483.1L849.4 2480L852.5 2476.9L852.5 2473.8L855.6 2473.8L855.6 2467.6L858.7 2467.6L858.7 2464.5L861.8 2461.4L861.8 2458.3L864.9 2458.3L864.9 2455.2L868 2452.1L868 2449L871.1 2449L871.1 2445.9L874.2 2442.8L874.2 2439.7L877.3 2439.7L877.3 2436.6L880.4 2436.6L880.4 2433.5L883.5 2430.4L883.5 2427.3L886.6 2427.3L886.6 2424.2L889.7 2424.2L889.7 2421.1L892.8 2421.1L892.8 2418L895.9 2414.9L895.9 2411.8L899 2411.8L899 2408.7L902.1 2408.7L902.1 2405.6L905.2 2405.6L905.2 2402.5L908.3 2402.5L908.3 2399.4L911.4 2396.3L911.4 2393.2L914.5 2393.2L914.5 2390.1L917.6 2390.1L917.6 2387L920.7 2387L920.7 2383.9L923.8 2383.9L923.8 2380.8L926.9 2377.7M945.5 2356L948.6 2352.9L951.7 2352.9L951.7 2349.8L954.8 2349.8L954.8 2346.7L957.9 2346.7L957.9 2343.6L961 2343.6L961 2340.5M982.7 2318.8L985.8 2315.7L988.9 2315.7L988.9 2312.6L992 2312.6L992 2309.5L995.1 2309.5L998.2 2306.4M1019.9 2284.7L1023 2284.7L1023 2281.6L1029.2 2281.6L1029.2 2278.5L1032.3 2278.5L1032.3 2275.4L1038.5 2275.4L1038.5 2272.3L1041.6 2272.3L1041.6 2269.2L1044.7 2269.2L1047.8 2266.1L1050.9 2266.1L1050.9 2263L1054 2263L1054 2259.9L1057.1 2259.9L1057.1 2256.8L1060.2 2256.8L1063.3 2253.7L1066.4 2253.7L1066.4 2250.6L1069.5 2250.6L1072.6 2247.5L1075.7 2247.5L1075.7 2244.4L1078.8 2244.4L1078.8 2241.3L1085 2241.3L1085 2238.2L1088.1 2238.2L1088.1 2235.1L1094.3 2235.1L1094.3 2232L1103.6 2232L1103.6 2228.9L1112.9 2228.9L1116 2225.8L1128.4 2225.8L1131.5 2222.7L1140.8 2222.7L1143.9 2219.6L1168.7 2219.6L1168.7 2222.7L1171.8 2222.7M1199.7 2228.9L1209 2228.9L1212.1 2232L1221.4 2232M1249.3 2241.3L1258.6 2241.3L1258.6 2244.4L1271 2244.4M1302 2253.7L1308.2 2253.7L1311.3 2256.8L1323.7 2256.8L1323.7 2259.9L1336.1 2259.9L1336.1 2263L1348.5 2263L1348.5 2266.1L1360.9 2266.1L1360.9 2269.2L1373.3 2269.2L1376.4 2272.3L1391.9 2272.3L1395 2275.4L1413.6 2275.4L1413.6 2278.5L1435.3 2278.5L1435.3 2281.6L1453.9 2281.6L1453.9 2284.7L1466.3 2284.7M1494.2 2287.8L1497.3 2290.9L1515.9 2290.9M1546.9 2294L1568.6 2294M1599.6 2297.1L1624.4 2297.1L1624.4 2300.2L1683.3 2300.2L1683.3 2303.3L1751.5 2303.3L1751.5 2306.4L1767 2306.4M1794.9 2306.4L1819.7 2306.4M1847.6 2309.5L1869.3 2309.5M1900.3 2309.5L1993.3 2309.5" fill="none" stroke="#ff9922" stroke-width="7.8" stroke-linecap="round" stroke-linejoin="round"/>
<path d="M409.2 3602.2L412.3 3602.2L412.3 3599.1L415.4 3599.1L415.4 3592.9L418.5 3592.9L418.5 3586.7L421.6 3583.6L421.6 3574.3L424.7 3571.2L424.7 3558.8L427.8 3555.7L427.8 3543.3L430.9 3540.2L430.9 3527.8L434 3524.7L434 3512.3L437.1 3512.3L437.1 3493.7L440.2 3493.7L440.2 3472L443.3 3468.9L443.3 3450.3M449.5 3419.3L449.5 3397.6M455.7 3369.7L455.7 3348L458.8 3348L458.8 3344.9M461.9 3317L461.9 3298.4L465 3298.4L465 3295.3M468.1 3264.3L468.1 3251.9L471.2 3251.9L471.2 3227.1L474.3 3227.1L474.3 3205.4L477.4 3205.4L477.4 3183.7L480.5 3183.7L480.5 3165.1L483.6 3165.1L483.6 3146.5L486.7 3146.5L486.7 3127.9L489.8 3127.9L489.8 3109.3L492.9 3109.3L492.9 3100M499.1 3069L499.1 3065.9L502.2 3062.8L502.2 3050.4L505.3 3050.4L505.3 3047.3M511.5 3019.4L511.5 3013.2L514.6 3013.2L514.6 3000.8L517.7 3000.8L517.7 2997.7M523.9 2969.8L523.9 2966.7L527 2963.6L527 2954.3L530.1 2954.3L530.1 2948.1M539.4 2920.2L539.4 2917.1L542.5 2917.1L542.5 2910.9L545.6 2910.9L545.6 2901.6L548.7 2901.6L548.7 2892.3L551.8 2892.3L551.8 2886.1L554.9 2886.1L554.9 2879.9L558 2876.8L558 2870.6L561.1 2870.6L561.1 2864.4L564.2 2864.4L564.2 2858.2L567.3 2858.2L567.3 2852L570.4 2852L570.4 2845.8L573.5 2845.8L573.5 2839.6L576.6 2839.6L576.6 2833.4L579.7 2833.4L579.7 2827.2L582.8 2827.2L582.8 2821L585.9 2821L585.9 2817.9L589 2814.8L589 2811.7L592.1 2811.7L592.1 2805.5L595.2 2805.5L595.2 2802.4L598.3 2802.4L598.3 2799.3L601.4 2796.2L601.4 2793.1L604.5 2793.1L604.5 2790L607.6 2786.9L607.6 2783.8L610.7 2783.8L610.7 2780.7L613.8 2777.6L613.8 2774.5L616.9 2774.5L616.9 2771.4M635.5 2746.6L638.6 2746.6L638.6 2743.5L641.7 2740.4L641.7 2737.3L644.8 2737.3L644.8 2734.2L647.9 2734.2L647.9 2731.1L651 2731.1M669.6 2706.3L669.6 2703.2L672.7 2703.2L672.7 2700.1L675.8 2697L675.8 2693.9L678.9 2693.9L678.9 2690.8L682 2690.8L682 2687.7M700.6 2666L700.6 2662.9L703.7 2662.9L703.7 2659.8L706.8 2659.8L706.8 2656.7L709.9 2653.6L709.9 2650.5L713 2650.5L713 2647.4M731.6 2625.7L731.6 2622.6L734.7 2622.6L734.7 2619.5L737.8 2619.5L737.8 2616.4L740.9 2613.3L740.9 2610.2L744 2610.2L744 2607.1L747.1 2607.1L747.1 2600.9L750.2 2600.9L750.2 2597.8L753.3 2597.8L753.3 2591.6L756.4 2591.6L756.4 2588.5L759.5 2588.5L759.5 2585.4L762.6 2585.4L762.6 2579.2L765.7 2579.2L765.7 2576.1L768.8 2576.1L768.8 2569.9L771.9 2569.9L771.9 2566.8L775 2566.8L775 2563.7L778.1 2560.6L778.1 2557.5L781.2 2557.5L781.2 2554.4L784.3 2551.3L784.3 2548.2L787.4 2548.2L787.4 2545.1L790.5 2545.1L790.5 2542L793.6 2538.9L793.6 2535.8L796.7 2535.8L796.7 2532.7L799.8 2532.7L799.8 2529.6L802.9 2526.5L802.9 2523.4L806 2523.4L806 2520.3L809.1 2520.3L809.1 2517.2L812.2 2514.1L812.2 2511L815.3 2511L815.3 2507.9L818.4 2507.9L818.4 2504.8L821.5 2504.8L821.5 2501.7L824.6 2498.6L824.6 2495.5L827.7 2495.5L827.7 2492.4L830.8 2492.4L830.8 2489.3M849.4 2464.5L849.4 2461.4L852.5 2458.3L852.5 2455.2L855.6 2455.2L855.6 2452.1L858.7 2449L858.7 2445.9L861.8 2445.9M877.3 2421.1L877.3 2418L880.4 2418L880.4 2414.9L883.5 2414.9L883.5 2411.8L886.6 2411.8L886.6 2405.6L889.7 2405.6L889.7 2402.5M911.4 2380.8L911.4 2377.7L914.5 2377.7L914.5 2374.6L917.6 2374.6L917.6 2371.5L920.7 2371.5L920.7 2368.4L923.8 2365.3M945.5 2340.5L954.8 2331.2L957.9 2331.2L957.9 2328.1L961 2328.1L961 2325L964.1 2325L964.1 2321.9L967.2 2321.9L967.2 2318.8L970.3 2318.8L970.3 2315.7L973.4 2315.7L973.4 2312.6L976.5 2312.6L976.5 2309.5L979.6 2309.5L979.6 2306.4L982.7 2306.4L982.7 2303.3L985.8 2303.3L985.8 2300.2L988.9 2300.2L988.9 2297.1L992 2297.1L992 2294L995.1 2294L995.1 2290.9L998.2 2290.9L998.2 2287.8L1001.3 2287.8L1001.3 2284.7L1004.4 2284.7L1004.4 2281.6L1007.5 2281.6L1010.6 2278.5L1013.7 2278.5L1013.7 2275.4L1016.8 2275.4L1016.8 2272.3L1019.9 2272.3L1023 2269.2L1026.1 2269.2L1026.1 2266.1L1029.2 2266.1L1029.2 2263L1032.3 2263L1032.3 2259.9L1038.5 2259.9L1038.5 2256.8L1041.6 2256.8L1041.6 2253.7L1044.7 2253.7L1044.7 2250.6L1047.8 2250.6L1047.8 2247.5L1050.9 2247.5L1054 2244.4L1057.1 2244.4L1057.1 2241.3L1060.2 2241.3L1063.3 2238.2L1069.5 2238.2L1069.5 2235.1L1072.6 2235.1M1100.5 2222.7L1122.2 2222.7M1153.2 2219.6L1162.5 2219.6L1162.5 2222.7L1174.9 2222.7L1174.9 2225.8M1202.8 2232L1205.9 2235.1L1218.3 2235.1L1218.3 2238.2L1224.5 2238.2M1252.4 2247.5L1258.6 2247.5L1258.6 2250.6L1274.1 2250.6L1274.1 2253.7L1286.5 2253.7L1286.5 2256.8L1295.8 2256.8L1298.9 2259.9L1311.3 2259.9L1311.3 2263L1326.8 2263L1326.8 2266.1L1342.3 2266.1L1342.3 2269.2L1351.6 2269.2L1354.7 2272.3L1364 2272.3L1367.1 2275.4L1382.6 2275.4L1382.6 2278.5L1398.1 2278.5L1398.1 2281.6L1410.5 2281.6L1413.6 2284.7L1416.7 2284.7M1447.7 2287.8L1463.2 2287.8L1463.2 2290.9L1469.4 2290.9M1497.3 2294L1515.9 2294L1519 2297.1M1550 2297.1L1553.1 2297.1L1553.1 2300.2L1571.7 2300.2M1602.7 2300.2L1618.2 2300.2L1618.2 2303.3L1695.7 2303.3L1695.7 2306.4L1770.1 2306.4M1801.1 2309.5L1822.8 2309.5M1850.7 2309.5L1872.4 2309.5M1903.4 2309.5L1925.1 2309.5M1956.1 2309.5L1993.3 2309.5" fill="none" stroke="#00c85a" stroke-width="7.8" stroke-linecap="round" stroke-linejoin="round"/>
<path d="M409.2 3602.2L412.3 3602.2L412.3 3599.1L415.4 3599.1L415.4 3592.9L418.5 3592.9L418.5 3586.7L421.6 3583.6L421.6 3574.3L424.7 3571.2L424.7 3558.8M437.1 3512.3L437.1 3493.7L440.2 3493.7L440.2 3472L443.3 3468.9L443.3 3465.8M449.5 3416.2L449.5 3397.6L452.6 3397.6L452.6 3372.8L455.7 3372.8L455.7 3369.7M461.9 3320.1L461.9 3298.4L465 3298.4L465 3276.7M474.3 3227.1L474.3 3205.4L477.4 3205.4L477.4 3183.7L480.5 3183.7L480.5 3180.6M486.7 3131L486.7 3127.9L489.8 3127.9L489.8 3109.3L492.9 3109.3L492.9 3093.8L496 3093.8L496 3084.5M508.4 3038L508.4 3025.6L511.5 3022.5L511.5 3013.2L514.6 3013.2L514.6 3000.8L517.7 3000.8L517.7 2991.5M530.1 2945L533.2 2945L533.2 2935.7L536.3 2932.6L536.3 2926.4L539.4 2926.4L539.4 2917.1L542.5 2917.1L542.5 2910.9L545.6 2910.9L545.6 2901.6L548.7 2901.6M567.3 2855.1L567.3 2852L570.4 2852L570.4 2845.8L573.5 2845.8L573.5 2839.6L576.6 2839.6L576.6 2833.4L579.7 2833.4L579.7 2827.2L582.8 2827.2L582.8 2821L585.9 2821L585.9 2817.9L589 2817.9L589 2814.8M616.9 2771.4L616.9 2768.3L620 2768.3L620 2765.2L623.1 2762.1L623.1 2759L626.2 2759L626.2 2755.9L629.3 2755.9L629.3 2752.8L632.4 2749.7L632.4 2746.6L635.5 2746.6L635.5 2743.5L638.6 2740.4L638.6 2737.3L641.7 2737.3L641.7 2734.2M672.7 2693.9L675.8 2690.8L675.8 2687.7L678.9 2687.7L678.9 2684.6L682 2681.5L682 2678.4L685.1 2678.4L685.1 2675.3L688.2 2672.2L688.2 2669.1L691.3 2669.1L691.3 2662.9L694.4 2662.9L694.4 2659.8L697.5 2659.8L697.5 2656.7M728.5 2616.4L731.6 2616.4L731.6 2613.3L734.7 2613.3L734.7 2610.2L737.8 2607.1L737.8 2604L740.9 2604L740.9 2600.9L744 2600.9L744 2597.8L747.1 2597.8L747.1 2594.7L750.2 2591.6L750.2 2588.5L753.3 2588.5L753.3 2585.4L756.4 2582.3M787.4 2542L787.4 2538.9L790.5 2538.9L790.5 2535.8L793.6 2535.8L793.6 2532.7L796.7 2529.6L796.7 2526.5L799.8 2526.5L799.8 2523.4L802.9 2520.3L802.9 2517.2L806 2517.2L806 2514.1L809.1 2511L809.1 2507.9L812.2 2507.9L812.2 2504.8M840.1 2461.4L840.1 2455.2L843.2 2455.2L843.2 2449L846.3 2449L846.3 2445.9L849.4 2442.8L849.4 2439.7L852.5 2439.7L852.5 2436.6L855.6 2433.5L855.6 2430.4L858.7 2430.4L858.7 2427.3L861.8 2427.3L861.8 2424.2L864.9 2424.2L864.9 2421.1M895.9 2383.9L895.9 2380.8L899 2377.7L899 2374.6L902.1 2374.6L902.1 2371.5L905.2 2371.5L905.2 2368.4L908.3 2365.3L908.3 2362.2L911.4 2362.2L911.4 2359.1L914.5 2359.1L914.5 2356L917.6 2356L917.6 2352.9L920.7 2352.9L920.7 2349.8L923.8 2346.7M961 2312.6L964.1 2309.5L967.2 2309.5L967.2 2306.4L970.3 2306.4L970.3 2303.3L973.4 2303.3L973.4 2300.2L976.5 2300.2L979.6 2297.1L982.7 2297.1L982.7 2294L985.8 2294L985.8 2290.9L988.9 2290.9L988.9 2287.8L992 2287.8L995.1 2284.7M1035.4 2253.7L1038.5 2253.7L1038.5 2250.6L1044.7 2250.6L1044.7 2247.5L1047.8 2247.5L1050.9 2244.4L1054 2244.4L1054 2241.3L1060.2 2241.3L1060.2 2238.2L1063.3 2238.2L1066.4 2235.1L1069.5 2235.1L1072.6 2232L1075.7 2232M1125.3 2219.6L1147 2219.6L1147 2222.7L1156.3 2222.7L1156.3 2225.8L1165.6 2225.8L1168.7 2228.9M1218.3 2241.3L1227.6 2241.3L1227.6 2244.4L1240 2244.4L1240 2247.5L1249.3 2247.5L1252.4 2250.6L1261.7 2250.6M1308.2 2266.1L1317.5 2266.1L1317.5 2269.2L1333 2269.2L1333 2272.3L1348.5 2272.3L1348.5 2275.4L1354.7 2275.4M1404.3 2284.7L1410.5 2284.7L1410.5 2287.8L1438.4 2287.8L1441.5 2290.9L1450.8 2290.9M1500.4 2294L1503.5 2297.1L1528.3 2297.1L1528.3 2300.2L1543.8 2300.2M1593.4 2303.3L1639.9 2303.3M1689.5 2306.4L1717.4 2306.4L1717.4 2309.5L1736 2309.5M1785.6 2309.5L1832.1 2309.5M1881.7 2309.5L1928.2 2309.5M1977.8 2312.6L1993.3 2312.6" fill="none" stroke="#ff0000" stroke-width="7.8" stroke-linecap="round" stroke-linejoin="round"/>
<path d="M409.2 3602.2L412.3 3602.2L412.3 3599.1L415.4 3599.1L415.4 3592.9L418.5 3592.9L418.5 3586.7L421.6 3583.6L421.6 3577.4M427.8 3549.5L427.8 3543.3L430.9 3540.2L430.9 3527.8L434 3524.7L434 3521.6M437.1 3493.7L440.2 3493.7L440.2 3472L443.3 3468.9L443.3 3465.8M446.4 3437.9L446.4 3422.4L449.5 3419.3L449.5 3410M452.6 3379L452.6 3372.8L455.7 3372.8L455.7 3351.1M461.9 3323.2L461.9 3298.4L465 3298.4L465 3295.3M468.1 3267.4L468.1 3251.9L471.2 3251.9L471.2 3239.5M474.3 3211.6L474.3 3205.4L477.4 3205.4L477.4 3183.7L480.5 3183.7M483.6 3155.8L483.6 3146.5L486.7 3146.5L486.7 3127.9L489.8 3127.9M492.9 3096.9L492.9 3093.8L496 3093.8L496 3078.3L499.1 3078.3L499.1 3069M505.3 3041.1L505.3 3038L508.4 3038L508.4 3025.6L511.5 3025.6L511.5 3016.3M520.8 2988.4L520.8 2976L523.9 2976L523.9 2966.7L527 2963.6L527 2960.5M536.3 2932.6L536.3 2926.4L539.4 2926.4L539.4 2917.1L542.5 2917.1L542.5 2910.9L545.6 2910.9L545.6 2904.7M554.9 2879.9L558 2876.8L558 2870.6L561.1 2870.6L561.1 2864.4L564.2 2864.4L564.2 2858.2L567.3 2858.2L567.3 2852M579.7 2827.2L582.8 2827.2L582.8 2821L585.9 2821L585.9 2817.9L589 2814.8L589 2811.7L592.1 2811.7L592.1 2805.5L595.2 2805.5L595.2 2802.4M610.7 2780.7L610.7 2774.5L613.8 2774.5L613.8 2771.4L616.9 2771.4L616.9 2765.2L620 2765.2L620 2762.1L623.1 2762.1L623.1 2759L626.2 2755.9M641.7 2731.1L644.8 2731.1L644.8 2724.9L647.9 2724.9L647.9 2721.8L651 2721.8L651 2718.7L654.1 2715.6L654.1 2712.5L657.2 2712.5L657.2 2709.4M675.8 2684.6L675.8 2681.5L678.9 2681.5L678.9 2678.4L682 2675.3L682 2672.2L685.1 2672.2L685.1 2669.1L688.2 2666L688.2 2662.9L691.3 2662.9M706.8 2638.1L709.9 2638.1L709.9 2635L713 2635L713 2631.9L716.1 2631.9L716.1 2628.8L719.2 2625.7L719.2 2622.6L722.3 2622.6L722.3 2619.5L725.4 2619.5L725.4 2616.4M744 2594.7L744 2591.6L747.1 2591.6L747.1 2588.5L750.2 2588.5L750.2 2585.4L753.3 2582.3L753.3 2579.2L756.4 2579.2L756.4 2576.1L759.5 2573M778.1 2548.2L778.1 2545.1L781.2 2545.1L781.2 2542L784.3 2542L784.3 2538.9L787.4 2538.9L787.4 2535.8L790.5 2532.7L790.5 2529.6L793.6 2529.6L793.6 2526.5M809.1 2501.7L812.2 2501.7L812.2 2495.5L815.3 2495.5L815.3 2492.4L818.4 2492.4L818.4 2486.2L821.5 2486.2L821.5 2480L824.6 2480L824.6 2476.9M840.1 2452.1L840.1 2449L843.2 2449L843.2 2442.8L846.3 2442.8L846.3 2439.7L849.4 2439.7L849.4 2433.5L852.5 2433.5L852.5 2430.4L855.6 2430.4M871.1 2405.6L874.2 2405.6L874.2 2402.5L877.3 2402.5L877.3 2399.4L880.4 2399.4L880.4 2396.3L883.5 2393.2L883.5 2390.1L886.6 2390.1L886.6 2387L889.7 2387L889.7 2383.9M908.3 2362.2L908.3 2359.1L911.4 2359.1L911.4 2356L914.5 2356L914.5 2352.9L917.6 2349.8L917.6 2346.7L920.7 2346.7L920.7 2343.6L923.8 2343.6L923.8 2340.5L926.9 2340.5M945.5 2321.9L945.5 2318.8L948.6 2318.8L948.6 2315.7L951.7 2315.7L951.7 2312.6L954.8 2312.6L954.8 2309.5L957.9 2309.5L957.9 2306.4L961 2306.4L961 2303.3L964.1 2303.3L964.1 2300.2L967.2 2300.2M988.9 2284.7L992 2284.7L992 2281.6L995.1 2281.6L995.1 2278.5L998.2 2275.4L1001.3 2275.4L1001.3 2272.3L1004.4 2272.3L1004.4 2269.2L1007.5 2269.2L1007.5 2266.1L1010.6 2266.1M1032.3 2247.5L1035.4 2247.5L1035.4 2244.4L1038.5 2244.4L1038.5 2241.3L1044.7 2241.3L1044.7 2238.2L1047.8 2238.2L1050.9 2235.1L1054 2235.1L1057.1 2232M1085 2222.7L1088.1 2219.6L1112.9 2219.6M1140.8 2222.7L1147 2222.7L1147 2225.8L1159.4 2225.8L1159.4 2228.9L1168.7 2228.9M1196.6 2238.2L1202.8 2238.2L1205.9 2241.3L1215.2 2241.3L1215.2 2244.4L1221.4 2244.4M1249.3 2253.7L1261.7 2253.7L1261.7 2256.8L1271 2256.8L1271 2259.9L1277.2 2259.9M1305.1 2266.1L1308.2 2266.1L1308.2 2269.2L1320.6 2269.2L1320.6 2272.3L1333 2272.3M1360.9 2278.5L1370.2 2278.5L1370.2 2281.6L1385.7 2281.6L1385.7 2284.7L1388.8 2284.7M1416.7 2287.8L1426 2287.8L1429.1 2290.9L1444.6 2290.9M1475.6 2294L1494.2 2294L1497.3 2297.1L1503.5 2297.1M1531.4 2300.2L1556.2 2300.2L1556.2 2303.3L1559.3 2303.3M1587.2 2303.3L1615.1 2303.3M1646.1 2303.3L1649.2 2303.3L1649.2 2306.4L1674 2306.4M1701.9 2309.5L1729.8 2309.5M1757.7 2309.5L1785.6 2309.5M1816.6 2309.5L1844.5 2309.5M1872.4 2309.5L1891 2309.5L1894.1 2312.6L1900.3 2312.6M1928.2 2312.6L1956.1 2312.6M1987.1 2312.6L1993.3 2312.6" fill="none" stroke="#0000ff" stroke-width="7.8" stroke-linecap="round" stroke-linejoin="round"/>
<path d="M409.2 3602.2L412.3 3602.2M421.6 3583.6L421.6 3574.3L424.7 3571.2L424.7 3568.1M427.8 3549.5L427.8 3543.3L430.9 3540.2L430.9 3530.9M437.1 3512.3L437.1 3493.7L440.2 3493.7M440.2 3475.1L440.2 3472L443.3 3468.9L443.3 3456.5M446.4 3437.9L446.4 3422.4L449.5 3419.3M449.5 3397.6L452.6 3397.6L452.6 3382.1M455.7 3360.4L455.7 3348L458.8 3348L458.8 3344.9M461.9 3323.2L461.9 3304.6M465 3286L465 3276.7L468.1 3273.6L468.1 3267.4M471.2 3248.8L471.2 3230.2M474.3 3211.6L474.3 3205.4L477.4 3205.4L477.4 3193M480.5 3174.4L480.5 3165.1L483.6 3165.1L483.6 3155.8M486.7 3137.2L486.7 3127.9L489.8 3127.9L489.8 3118.6M492.9 3100L492.9 3093.8L496 3093.8L496 3081.4M502.2 3062.8L502.2 3050.4L505.3 3050.4L505.3 3044.2M508.4 3025.6L511.5 3025.6L511.5 3013.2L514.6 3013.2L514.6 3010.1M517.7 2991.5L517.7 2988.4L520.8 2985.3L520.8 2976L523.9 2976L523.9 2972.9M530.1 2954.3L530.1 2945L533.2 2941.9L533.2 2935.7M539.4 2917.1L542.5 2917.1L542.5 2910.9L545.6 2910.9L545.6 2901.6L548.7 2901.6M554.9 2883L554.9 2879.9L558 2876.8L558 2870.6L561.1 2870.6L561.1 2867.5M570.4 2848.9L570.4 2845.8L573.5 2845.8L573.5 2839.6L576.6 2839.6L576.6 2833.4L579.7 2833.4M589 2814.8L589 2811.7L592.1 2811.7L592.1 2805.5L595.2 2805.5L595.2 2799.3L598.3 2799.3M607.6 2783.8L607.6 2777.6L610.7 2777.6L610.7 2774.5L613.8 2774.5L613.8 2768.3L616.9 2768.3M626.2 2749.7L629.3 2749.7L629.3 2746.6L632.4 2743.5L632.4 2740.4L635.5 2740.4L635.5 2737.3L638.6 2737.3M647.9 2718.7L651 2718.7L651 2715.6L654.1 2715.6L654.1 2709.4L657.2 2709.4L657.2 2706.3L660.3 2706.3M669.6 2690.8L669.6 2687.7L672.7 2687.7L672.7 2681.5L675.8 2681.5L675.8 2678.4L678.9 2678.4L678.9 2675.3M691.3 2656.7L694.4 2653.6L694.4 2650.5L697.5 2650.5L697.5 2647.4L700.6 2647.4L700.6 2644.3M713 2628.8L716.1 2625.7L716.1 2622.6L719.2 2622.6L719.2 2619.5L722.3 2619.5L722.3 2616.4L725.4 2616.4L725.4 2613.3M737.8 2597.8L740.9 2594.7L740.9 2591.6L744 2591.6L744 2588.5L747.1 2588.5L747.1 2585.4M759.5 2569.9L759.5 2566.8L762.6 2566.8L762.6 2563.7L765.7 2563.7L765.7 2560.6L768.8 2557.5L768.8 2554.4L771.9 2554.4M784.3 2538.9L784.3 2535.8L787.4 2535.8L787.4 2529.6L790.5 2529.6L790.5 2526.5L793.6 2526.5L793.6 2523.4M802.9 2507.9L806 2507.9L806 2501.7L809.1 2501.7L809.1 2498.6L812.2 2495.5L812.2 2492.4L815.3 2492.4M824.6 2473.8L824.6 2470.7L827.7 2470.7L827.7 2464.5L830.8 2464.5L830.8 2461.4L833.9 2458.3M843.2 2442.8L843.2 2439.7L846.3 2439.7L846.3 2433.5L849.4 2433.5L849.4 2430.4L852.5 2430.4L852.5 2427.3M864.9 2411.8L868 2411.8L868 2408.7L871.1 2408.7L871.1 2405.6L874.2 2402.5L874.2 2399.4L877.3 2399.4M889.7 2383.9L889.7 2380.8L892.8 2377.7L892.8 2374.6L895.9 2374.6L895.9 2371.5L899 2371.5L899 2368.4M911.4 2352.9L914.5 2352.9L914.5 2349.8L920.7 2343.6L920.7 2340.5L923.8 2340.5M939.3 2325L951.7 2312.6M964.1 2300.2L967.2 2300.2L967.2 2297.1L970.3 2297.1L970.3 2294L973.4 2294L973.4 2290.9L976.5 2290.9L979.6 2287.8M995.1 2275.4L995.1 2272.3L998.2 2272.3L1004.4 2266.1L1007.5 2266.1L1007.5 2263M1023 2250.6L1026.1 2247.5L1029.2 2247.5L1029.2 2244.4L1032.3 2244.4L1035.4 2241.3L1038.5 2241.3M1054 2232L1057.1 2228.9L1060.2 2228.9L1063.3 2225.8L1069.5 2225.8L1069.5 2222.7L1072.6 2222.7M1091.2 2219.6L1109.8 2219.6M1128.4 2219.6L1134.6 2219.6L1134.6 2222.7L1147 2222.7M1165.6 2228.9L1168.7 2232L1178 2232L1178 2235.1L1181.1 2235.1M1199.7 2238.2L1202.8 2238.2L1202.8 2241.3L1212.1 2241.3L1212.1 2244.4L1218.3 2244.4M1236.9 2250.6L1243.1 2250.6L1243.1 2253.7L1255.5 2253.7M1274.1 2259.9L1277.2 2259.9L1277.2 2263L1289.6 2263M1308.2 2269.2L1314.4 2269.2L1314.4 2272.3L1326.8 2272.3M1345.4 2275.4L1345.4 2278.5L1364 2278.5M1382.6 2281.6L1385.7 2281.6L1385.7 2284.7L1398.1 2284.7L1398.1 2287.8L1401.2 2287.8M1419.8 2290.9L1438.4 2290.9M1457 2294L1475.6 2294L1475.6 2297.1M1494.2 2297.1L1512.8 2297.1M1531.4 2300.2L1550 2300.2M1571.7 2303.3L1587.2 2303.3M1608.9 2306.4L1627.5 2306.4M1646.1 2306.4L1664.7 2306.4M1683.3 2309.5L1701.9 2309.5M1720.5 2309.5L1739.1 2309.5M1757.7 2312.6L1776.3 2312.6M1794.9 2312.6L1813.5 2312.6M1835.2 2312.6L1850.7 2312.6M1872.4 2312.6L1891 2312.6M1909.6 2315.7L1928.2 2315.7M1946.8 2315.7L1965.4 2315.7M1984 2315.7L1993.3 2315.7" fill="none" stroke="#000000" stroke-width="7.8" stroke-linecap="round" stroke-linejoin="round"/>
<g stroke="#000" stroke-width="6.9" stroke-linecap="round"><line x1="408.4" y1="2110.4" x2="408.4" y2="3617.4" stroke-linecap="butt"/><line x1="1986.4" y1="2107.0" x2="1986.4" y2="3620.8" stroke-linecap="butt"/><line x1="360.4" y1="2110.4" x2="1986.4" y2="2110.4"/><line x1="379.4" y1="2260.4" x2="408.4" y2="2260.4"/><line x1="360.4" y1="2410.3" x2="408.4" y2="2410.3"/><line x1="379.4" y1="2560.3" x2="408.4" y2="2560.3"/><line x1="360.4" y1="2710.5" x2="408.4" y2="2710.5"/><line x1="379.4" y1="2863.8" x2="408.4" y2="2863.8"/><line x1="360.4" y1="3013.8" x2="408.4" y2="3013.8"/><line x1="379.4" y1="3163.9" x2="408.4" y2="3163.9"/><line x1="360.4" y1="3313.9" x2="408.4" y2="3313.9"/><line x1="379.4" y1="3467.6" x2="408.4" y2="3467.6"/><line x1="360.4" y1="3617.4" x2="1986.4" y2="3617.4"/><line x1="408.4" y1="3617.4" x2="408.4" y2="3665.4"/><line x1="606.4" y1="3617.4" x2="606.4" y2="3646.9"/><line x1="801.4" y1="3617.4" x2="801.4" y2="3665.4"/><line x1="999.6999999999999" y1="3617.4" x2="999.6999999999999" y2="3646.9"/><line x1="1197.5" y1="3617.4" x2="1197.5" y2="3665.4"/><line x1="1395.2" y1="3617.4" x2="1395.2" y2="3646.9"/><line x1="1593.7" y1="3617.4" x2="1593.7" y2="3665.4"/><line x1="1791.5" y1="3617.4" x2="1791.5" y2="3646.9"/><line x1="1989.2" y1="3617.4" x2="1989.2" y2="3665.4"/></g>
<text transform="translate(312.3 2132.8) scale(1 1.055)" font-size="66" text-anchor="end" letter-spacing="0.5" stroke="#000" stroke-width="0.6">2000</text>
<text transform="translate(312.3 2434.4) scale(1 1.055)" font-size="66" text-anchor="end" letter-spacing="0.5" stroke="#000" stroke-width="0.6">1600</text>
<text transform="translate(312.3 2736.1) scale(1 1.055)" font-size="66" text-anchor="end" letter-spacing="0.5" stroke="#000" stroke-width="0.6">1200</text>
<text transform="translate(312.3 3037.7) scale(1 1.055)" font-size="66" text-anchor="end" letter-spacing="0.5" stroke="#000" stroke-width="0.6">800</text>
<text transform="translate(312.3 3339.4) scale(1 1.055)" font-size="66" text-anchor="end" letter-spacing="0.5" stroke="#000" stroke-width="0.6">400</text>
<text transform="translate(312.3 3641.0) scale(1 1.055)" font-size="66" text-anchor="end" letter-spacing="0.5" stroke="#000" stroke-width="0.6">0</text>
<text transform="translate(407.5 3771.3) scale(1 1.055)" font-size="66" text-anchor="middle" letter-spacing="0.5" stroke="#000" stroke-width="0.6">0</text>
<text transform="translate(802.0 3771.3) scale(1 1.055)" font-size="66" text-anchor="middle" letter-spacing="0.5" stroke="#000" stroke-width="0.6">100</text>
<text transform="translate(1196.6 3771.3) scale(1 1.055)" font-size="66" text-anchor="middle" letter-spacing="0.5" stroke="#000" stroke-width="0.6">200</text>
<text transform="translate(1591.1 3771.3) scale(1 1.055)" font-size="66" text-anchor="middle" letter-spacing="0.5" stroke="#000" stroke-width="0.6">300</text>
<text transform="translate(1985.7 3771.3) scale(1 1.055)" font-size="66" text-anchor="middle" letter-spacing="0.5" stroke="#000" stroke-width="0.6">400</text>
<text transform="translate(489.6 2245.1)" font-size="80" stroke="#000" stroke-width="0.6"><tspan>d</tspan><tspan dy="19" font-size="48">p</tspan><tspan dy="-19">/d</tspan><tspan dy="19" font-size="48">o</tspan><tspan dy="-19">= 5</tspan></text>
<text transform="translate(605.0 3477)" font-size="80" text-anchor="middle" font-weight="bold" letter-spacing="1.8" stroke="#000" stroke-width="0.6">(b)</text>
<text transform="translate(1115.4 3885)" font-size="80" letter-spacing="1" stroke="#000" stroke-width="0.6"><tspan>x/d</tspan><tspan dy="19" font-size="48">o</tspan></text>
<text transform="translate(76.5 2860.0) rotate(-90) scale(1 1.05)" font-size="78.6" text-anchor="middle" stroke="#000" stroke-width="0.6"><tspan>T</tspan><tspan dy="18" font-size="50">a</tspan><tspan dy="-18"> (</tspan><tspan dy="-24" font-size="50">o</tspan><tspan dy="24">C)</tspan></text>
</svg>
</body></html>
